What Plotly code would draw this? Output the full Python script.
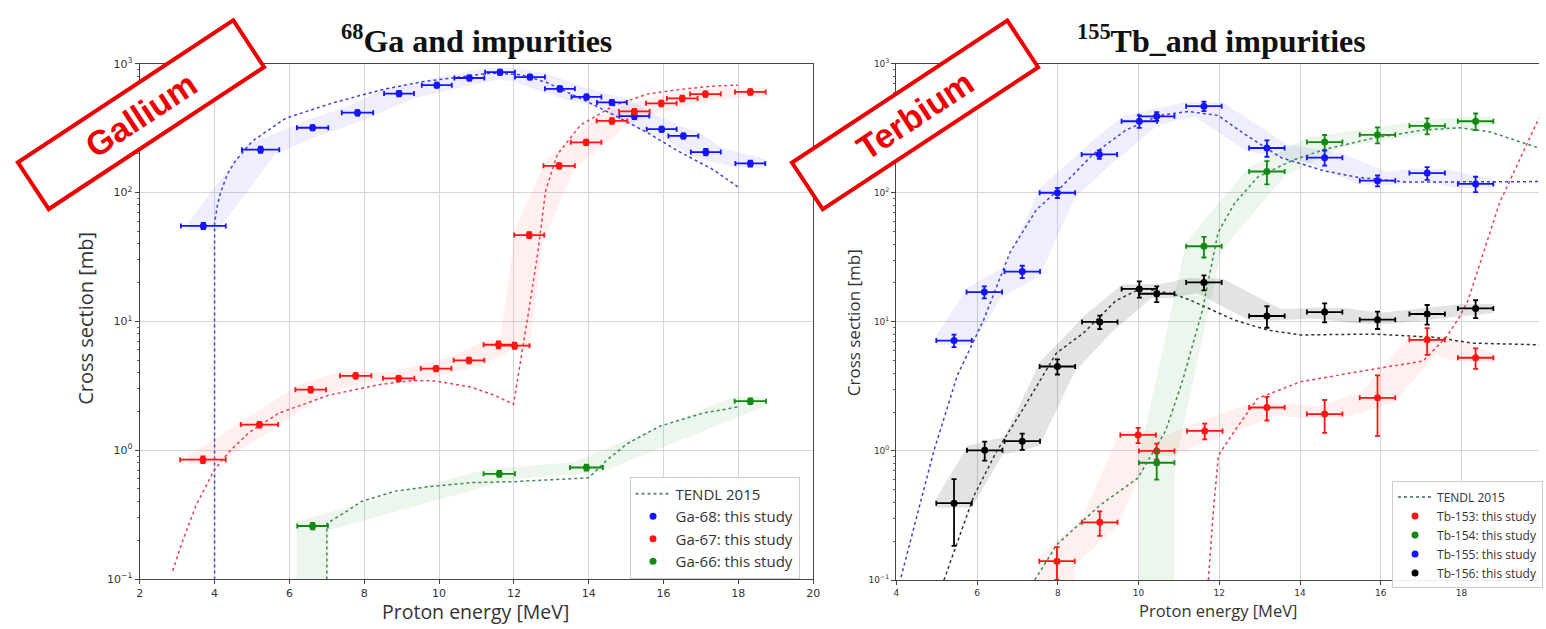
import numpy as np
import plotly.graph_objects as go

W, H = 1546, 629

# ---------------- 68Ga panel ----------------
ga68_E = [3.70, 5.23, 6.62, 7.82, 8.93, 9.94, 10.81, 11.63, 12.43, 13.23, 13.94, 14.62, 15.22, 15.95, 16.53, 17.13, 18.32]
ga68_dE = [0.60, 0.50, 0.42, 0.42, 0.40, 0.40, 0.40, 0.40, 0.40, 0.40, 0.40, 0.40, 0.40, 0.40, 0.40, 0.40, 0.40]
ga68_xs = [55, 215, 318, 416, 586, 681, 774, 859, 787, 638, 552, 500, 392, 310, 275, 206, 168]
ga68_err = [3, 12, 15, 20, 28, 30, 35, 40, 35, 30, 25, 22, 20, 15, 13, 12, 9]

ga67_E = [3.69, 5.20, 6.57, 7.77, 8.92, 9.92, 10.80, 11.59, 12.02, 12.41, 13.21, 13.93, 14.62, 15.22, 15.94, 16.50, 17.12, 18.32]
ga67_dE = [0.61, 0.50, 0.41, 0.42, 0.42, 0.41, 0.41, 0.40, 0.40, 0.40, 0.42, 0.41, 0.41, 0.41, 0.41, 0.41, 0.41, 0.41]
ga67_xs = [0.844, 1.58, 2.95, 3.78, 3.61, 4.30, 4.98, 6.58, 6.47, 46.7, 161, 245, 359, 426, 492, 537, 580, 603]
ga67_err = [0.05, 0.08, 0.15, 0.18, 0.17, 0.20, 0.25, 0.40, 0.35, 2.5, 8, 12, 18, 20, 25, 27, 28, 30]

ga66_E = [6.62, 11.61, 13.94, 18.32]
ga66_dE = [0.41, 0.42, 0.44, 0.42]
ga66_xs = [0.258, 0.655, 0.734, 2.40]
ga66_err = [0.015, 0.035, 0.04, 0.12]

# TENDL 2015 evaluations
tendl_ga68_E = [4.0, 4.0, 4.08, 4.16, 4.35, 4.56, 5.0, 5.9, 7.2, 8.5, 9.5, 10.7, 11.4, 12.2, 12.9, 14.0, 14.7, 15.6, 16.4, 17.3, 18.0]
tendl_ga68_xs = [0.08, 58, 80, 100, 140, 176, 249, 377, 500, 630, 720, 798, 845, 820, 710, 500, 396, 288, 209, 152, 110]
tendl_ga67_E = [2.88, 3.14, 3.5, 3.99, 4.38, 4.92, 5.72, 7.05, 8.38, 9.26, 9.9, 10.86, 11.48, 11.99, 12.37, 12.63, 12.85, 13.16, 13.78, 14.67, 15.56, 16.44, 17.33, 17.99]
tendl_ga67_xs = [0.116, 0.195, 0.37, 0.70, 0.967, 1.37, 1.94, 2.67, 3.22, 3.47, 3.45, 3.09, 2.67, 2.27, 10.8, 32.6, 104, 197, 333, 472, 580, 631, 670, 681]
tendl_ga66_E = [7.0, 7.0, 7.49, 7.93, 8.82, 9.70, 10.86, 12.0, 14.0, 14.49, 15.02, 15.91, 17.06, 18.04]
tendl_ga66_xs = [0.08, 0.27, 0.33, 0.40, 0.48, 0.52, 0.56, 0.57, 0.61, 0.84, 1.12, 1.54, 1.94, 2.18]

# ---------------- 155Tb panel ----------------
tb153_E = [7.98, 9.04, 9.99, 10.45, 11.64, 13.18, 14.61, 15.92, 17.15, 18.35]
tb153_xs = [0.14, 0.28, 1.33, 1.00, 1.43, 2.17, 1.93, 2.58, 7.25, 5.27]
tb153_err = [0.04, 0.06, 0.18, 0.14, 0.20, 0.45, 0.55, 1.27, 1.7, 0.95]

tb154_E = [10.45, 11.62, 13.18, 14.61, 15.92, 17.15, 18.35]
tb154_xs = [0.81, 38.5, 146, 247, 281, 330, 358]
tb154_err = [0.21, 7, 30, 33, 40, 47, 53]

tb155_E = [5.43, 6.18, 7.12, 7.99, 9.03, 10.02, 10.45, 11.62, 13.18, 14.61, 15.92, 17.15, 18.35]
tb155_xs = [7.16, 17.0, 24.5, 100, 198, 358, 391, 468, 222, 187, 124, 142, 117]
tb155_err = [0.8, 1.8, 2.7, 9, 15, 40, 30, 40, 32, 25, 12, 16, 16]

tb156_E = [5.43, 6.19, 7.12, 7.99, 9.04, 10.02, 10.45, 11.62, 13.18, 14.61, 15.92, 17.15, 18.35]
tb156_xs = [0.394, 1.01, 1.19, 4.51, 9.98, 18.0, 16.5, 20.2, 11.1, 11.9, 10.4, 11.5, 12.7]
tb156_err = [0.21, 0.17, 0.17, 0.6, 1.2, 2.6, 2.3, 2.7, 2.1, 2.0, 1.6, 2.0, 2.0]

tb_dE = 0.44

tendl_tb153_E = [11.72, 11.85, 11.98, 12.38, 12.95, 14.02, 15.82, 17.05, 17.63, 17.95, 18.16, 18.94, 19.92]
tendl_tb153_xs = [0.09, 0.334, 0.925, 1.43, 2.55, 3.44, 4.30, 4.97, 7.67, 10.9, 14.6, 83, 380]
tendl_tb154_E = [7.43, 7.97, 9.03, 9.98, 10.67, 11.08, 11.58, 11.97, 12.38, 12.95, 13.77, 14.59, 15.82, 17.05, 17.95, 18.69, 19.92]
tendl_tb154_xs = [0.1, 0.187, 0.376, 0.615, 1.43, 3.41, 12.2, 49.2, 83, 132, 176, 216, 265, 306, 319, 297, 222]
tendl_tb155_E = [4.08, 4.93, 5.51, 5.92, 6.16, 6.82, 7.47, 8.05, 8.87, 9.69, 10.51, 11.23, 11.97, 12.54, 13.53, 14.59, 15.41, 16.64, 18.28, 19.92]
tendl_tb155_xs = [0.095, 1.0, 3.83, 7.25, 10.3, 34.7, 73.8, 108, 198, 306, 397, 426, 397, 297, 187, 148, 132, 121, 121, 122]
tendl_tb156_E = [5.18, 5.92, 6.49, 7.15, 7.97, 8.63, 9.44, 10.09, 10.9, 11.31, 12.38, 13.2, 14.02, 15.82, 17.3, 18.28, 19.92]
tendl_tb156_xs = [0.1, 0.447, 1.0, 2.14, 5.75, 8.15, 14.6, 18.3, 16.3, 14.6, 10.3, 8.63, 7.91, 8.04, 7.6, 6.84, 6.64]

decade_vals = [0.1, 1, 10, 100, 1000]
decade_text = ["10<sup>−1</sup>", "10<sup>0</sup>", "10<sup>1</sup>", "10<sup>2</sup>", "10<sup>3</sup>"]

BLUE, RED, GREEN, BLACK = "#1414ff", "#ff1414", "#128a12", "#000000"


def paper(x, y):
    return x / W, 1 - y / H


def band_polygon(E, xs, dE, pad=0.035, threshold=False, floor=0.05):
    """Uncertainty band swept along the measured points (energy width x value pad)."""
    E = np.asarray(E, float)
    ly = np.log10(np.asarray(xs, float))
    w = float(np.median(dE))
    grid = np.linspace(E[0] - w, E[-1] + w, 600)
    curve = np.interp(grid, E, ly)
    hi = np.empty_like(grid)
    lo = np.empty_like(grid)
    for i, g in enumerate(grid):
        m = np.abs(grid - g) <= w
        hi[i] = curve[m].max() + pad
        lo[i] = curve[m].min() - pad
    if threshold:
        lo[grid <= E[0] + w] = np.log10(floor)
    return np.concatenate([grid, grid[::-1]]), 10 ** np.concatenate([hi, lo[::-1]])


fig = go.Figure()


def add_band(E, xs, dE, rgba, ax, threshold=False):
    bx, by = band_polygon(E, xs, dE, threshold=threshold)
    fig.add_trace(go.Scatter(x=bx, y=by, mode="lines", fill="toself", fillcolor=rgba,
                             line=dict(width=0), hoverinfo="skip", showlegend=False,
                             xaxis=ax[0], yaxis=ax[1]))


def add_tendl(E, xs, color, ax):
    fig.add_trace(go.Scatter(x=E, y=xs, mode="lines", line=dict(color=color, dash="dot", width=1.5),
                             showlegend=False, xaxis=ax[0], yaxis=ax[1]))


def add_data(E, xs, dE, err, color, name, ax, legend):
    dEs = dE if isinstance(dE, list) else [dE] * len(E)
    fig.add_trace(go.Scatter(
        x=E, y=xs, mode="markers", name=name, legend=legend,
        marker=dict(color=color, size=7),
        error_x=dict(type="data", array=dEs, color=color, thickness=1.8, width=2.5),
        error_y=dict(type="data", array=err, color=color, thickness=1.8, width=2.5),
        xaxis=ax[0], yaxis=ax[1]))


L = ("x", "y")
R = ("x2", "y2")

# bands
add_band(ga68_E, ga68_xs, ga68_dE, "rgba(100,100,235,0.11)", L)
add_band(ga67_E, ga67_xs, ga67_dE, "rgba(255,100,100,0.10)", L)
add_band(ga66_E, ga66_xs, ga66_dE, "rgba(40,150,40,0.09)", L, threshold=True)
add_band(tb155_E, tb155_xs, [tb_dE], "rgba(100,100,235,0.11)", R)
add_band(tb156_E, tb156_xs, [tb_dE], "rgba(0,0,0,0.11)", R)
add_band(tb154_E, tb154_xs, [tb_dE], "rgba(40,150,40,0.09)", R, threshold=True)
add_band(tb153_E, tb153_xs, [tb_dE], "rgba(255,100,100,0.10)", R, threshold=True)

# TENDL curves
add_tendl(tendl_ga68_E, tendl_ga68_xs, "#4040d8", L)
add_tendl(tendl_ga67_E, tendl_ga67_xs, "#e8405a", L)
add_tendl(tendl_ga66_E, tendl_ga66_xs, "#3c8a55", L)
add_tendl(tendl_tb155_E, tendl_tb155_xs, "#4040d8", R)
add_tendl(tendl_tb156_E, tendl_tb156_xs, "#333333", R)
add_tendl(tendl_tb154_E, tendl_tb154_xs, "#3c8a55", R)
add_tendl(tendl_tb153_E, tendl_tb153_xs, "#e8405a", R)

# legend entries for TENDL
for lg, ax in (("legend", L), ("legend2", R)):
    fig.add_trace(go.Scatter(x=[None], y=[None], mode="lines", name="TENDL 2015", legend=lg,
                             line=dict(color="#5f8f80", dash="dot", width=2), xaxis=ax[0], yaxis=ax[1]))

# measured data
add_data(ga68_E, ga68_xs, ga68_dE, ga68_err, BLUE, "Ga-68: this study", L, "legend")
add_data(ga67_E, ga67_xs, ga67_dE, ga67_err, RED, "Ga-67: this study", L, "legend")
add_data(ga66_E, ga66_xs, ga66_dE, ga66_err, GREEN, "Ga-66: this study", L, "legend")
add_data(tb153_E, tb153_xs, tb_dE, tb153_err, RED, "Tb-153: this study", R, "legend2")
add_data(tb154_E, tb154_xs, tb_dE, tb154_err, GREEN, "Tb-154: this study", R, "legend2")
add_data(tb155_E, tb155_xs, tb_dE, tb155_err, BLUE, "Tb-155: this study", R, "legend2")
add_data(tb156_E, tb156_xs, tb_dE, tb156_err, BLACK, "Tb-156: this study", R, "legend2")

minor_vals = [k * 10.0 ** n for n in range(-1, 3) for k in range(2, 10)]

axis_common = dict(showline=True, linecolor="#444", linewidth=1.3, ticks="outside", ticklen=4,
                   tickcolor="#444", showgrid=True, gridcolor="#d6d6d6", gridwidth=1, zeroline=False)


def xaxis(domain, rng, size, mirror=True):
    return dict(axis_common, domain=domain, range=rng, tickmode="array",
                tickvals=list(range(2, 21, 2)), mirror=mirror,
                tickfont=dict(family="DejaVu Sans", size=size, color="#333"))


def yaxis(domain, anchor, size, mirror=True):
    return dict(axis_common, type="log", domain=domain, range=[-1, 3], anchor=anchor,
                tickmode="array", tickvals=decade_vals, ticktext=decade_text, mirror=mirror,
                minor=dict(tickvals=minor_vals, ticks="outside", ticklen=2, tickcolor="#666", showgrid=False),
                tickfont=dict(family="DejaVu Sans", size=size, color="#333"))


fig.update_layout(
    width=W, height=H, autosize=False,
    margin=dict(l=0, r=0, t=0, b=0),
    paper_bgcolor="white", plot_bgcolor="white",
    xaxis=xaxis([136.7 / W, 815 / W], [2, 20], 11),
    yaxis=yaxis([1 - 585 / H, 1 - 57 / H], "x", 11),
    xaxis2=dict(xaxis([898.7 / W, 1.0], [4, 19.92], 9, mirror=True), anchor="y2"),
    yaxis2=yaxis([1 - 586 / H, 1 - 57 / H], "x2", 9, mirror=False),
    legend=dict(x=630 / W, y=1 - 480 / H, xanchor="left", yanchor="top", itemwidth=35,
                bgcolor="rgba(255,255,255,0.9)", bordercolor="#cccccc", borderwidth=1,
                font=dict(family="Open Sans", size=15, color="#333")),
    legend2=dict(x=1398 / W, y=1 - 485 / H, xanchor="left", yanchor="top", itemwidth=34,
                 bgcolor="rgba(255,255,255,0.9)", bordercolor="#cccccc", borderwidth=1,
                 font=dict(family="Open Sans", size=12, color="#333")),
)

annotations = []


def text_at(px, py, text, size, family, color="#222", angle=0, **kw):
    x, y = paper(px, py)
    annotations.append(dict(x=x, y=y, xref="paper", yref="paper", text=text, showarrow=False,
                            textangle=angle, xanchor="center", yanchor="middle",
                            font=dict(family=family, size=size, color=color), **kw))


# panel titles
text_at(476, 32, "<b><sup>68</sup>Ga and impurities</b>", 32, "Liberation Serif", "#111")
text_at(1226, 32, "<b><sup>155</sup>Tb_and impurities</b>", 32, "Liberation Serif", "#111")

# axis titles
text_at(82, 318, "Cross section [mb]", 20, "Open Sans", "#333", angle=-90)
text_at(475, 618, "Proton energy [MeV]", 19.5, "Open Sans", "#333")
text_at(855, 322, "Cross section [mb]", 17, "Open Sans", "#333", angle=-90)
text_at(1223, 617, "Proton energy [MeV]", 16.5, "Open Sans", "#333")

# element stamps
for cx, label in ((137.5, "Gallium"), (917.5, "Terbium")):
    text_at(cx, 109.5, "<b>" + label + "</b>", 34, "Liberation Sans", "#ee0000", angle=-33.4,
            bgcolor="white", bordercolor="#ee0000", borderwidth=4, borderpad=1,
            width=252, height=50, align="center", valign="middle")

fig.update_layout(annotations=annotations)

fig.write_html("out.html")
